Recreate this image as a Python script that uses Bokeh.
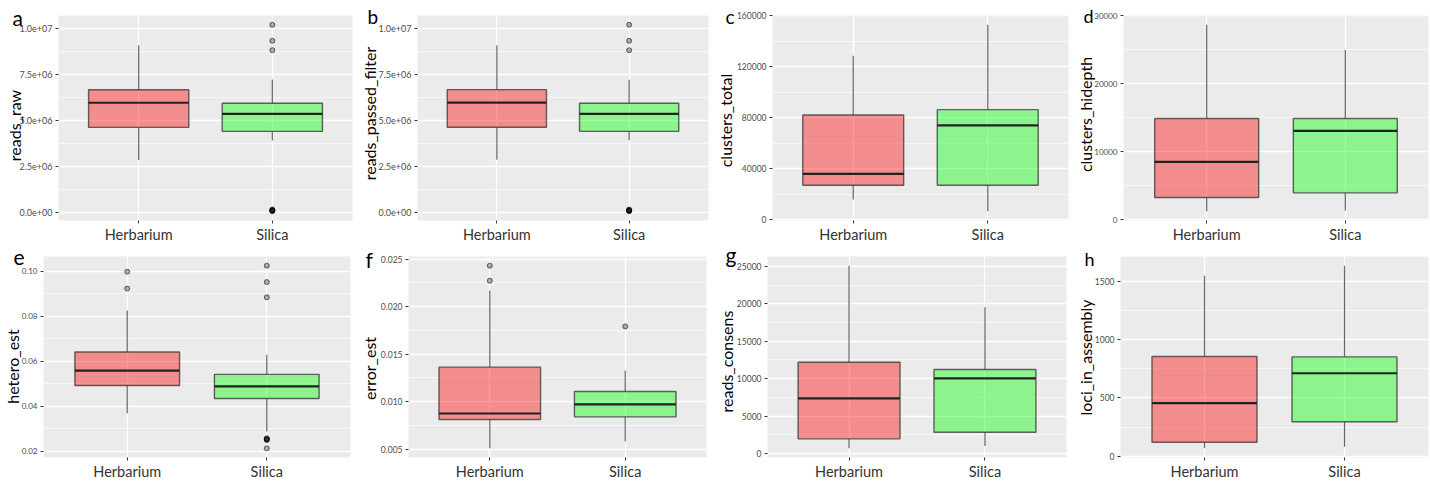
import numpy as np
from bokeh.plotting import figure
from bokeh.models import Range1d, FixedTicker, Label, ColumnDataSource
from bokeh.layouts import column, row
from bokeh.embed import file_html
from bokeh.resources import INLINE

# ---------------- data ----------------
categories = ["Herbarium", "Silica"]

reads_raw = {"lower": [2.85e6, 3.91e6], "q1": [4.62e6, 4.40e6], "median": [5.96e6, 5.35e6],
             "q3": [6.67e6, 5.93e6], "upper": [9.09e6, 7.22e6]}
reads_raw_out_cat = ["Silica"] * 8
reads_raw_out_val = [1.02e7, 9.33e6, 8.82e6, 1.5e5, 1.2e5, 1.0e5, 8.0e4, 6.0e4]

reads_passed_filter = {"lower": [2.84e6, 3.90e6], "q1": [4.61e6, 4.39e6], "median": [5.95e6, 5.34e6],
                       "q3": [6.66e6, 5.92e6], "upper": [9.07e6, 7.20e6]}
reads_passed_filter_out_cat = ["Silica"] * 8
reads_passed_filter_out_val = [1.018e7, 9.31e6, 8.80e6, 1.4e5, 1.1e5, 9.0e4, 7.0e4, 5.0e4]

clusters_total = {"lower": [15700, 6500], "q1": [26900, 26900], "median": [35800, 74000],
                  "q3": [82100, 86300], "upper": [128600, 153000]}
clusters_total_out_cat = []
clusters_total_out_val = []

clusters_hidepth = {"lower": [1230, 1330], "q1": [3250, 3930], "median": [8510, 13080],
                    "q3": [14900, 14900], "upper": [28700, 25000]}
clusters_hidepth_out_cat = []
clusters_hidepth_out_val = []

hetero_est = {"lower": [0.0369, 0.0288], "q1": [0.0493, 0.0435], "median": [0.0559, 0.0489],
              "q3": [0.0642, 0.0542], "upper": [0.0826, 0.0629]}
hetero_est_out_cat = ["Herbarium", "Herbarium", "Silica", "Silica", "Silica", "Silica", "Silica", "Silica", "Silica", "Silica"]
hetero_est_out_val = [0.0999, 0.0924, 0.1026, 0.0953, 0.0885, 0.0258, 0.0255, 0.0252, 0.0250, 0.0213]

error_est = {"lower": [0.00507, 0.00583], "q1": [0.00811, 0.00839], "median": [0.00874, 0.00971],
             "q3": [0.01362, 0.01106], "upper": [0.02168, 0.01327]}
error_est_out_cat = ["Herbarium", "Herbarium", "Silica"]
error_est_out_val = [0.02431, 0.02272, 0.01791]

reads_consens = {"lower": [700, 1010], "q1": [1970, 2850], "median": [7370, 10040],
                 "q3": [12190, 11230], "upper": [25090, 19520]}
reads_consens_out_cat = []
reads_consens_out_val = []

loci_in_assembly = {"lower": [68, 82], "q1": [121, 296], "median": [456, 712],
                    "q3": [856, 853], "upper": [1548, 1635]}
loci_in_assembly_out_cat = []
loci_in_assembly_out_val = []

ticks_reads = [0, 2.5e6, 5.0e6, 7.5e6, 1.0e7]
ticks_reads_labels = ["0.0e+00", "2.5e+06", "5.0e+06", "7.5e+06", "1.0e+07"]
ticks_clusters_total = [0, 40000, 80000, 120000, 160000]
ticks_clusters_total_labels = ["0", "40000", "80000", "120000", "160000"]
ticks_clusters_hidepth = [0, 10000, 20000, 30000]
ticks_clusters_hidepth_labels = ["0", "10000", "20000", "30000"]
ticks_hetero = [0.02, 0.04, 0.06, 0.08, 0.10]
ticks_hetero_labels = ["0.02", "0.04", "0.06", "0.08", "0.10"]
ticks_error = [0.005, 0.010, 0.015, 0.020, 0.025]
ticks_error_labels = ["0.005", "0.010", "0.015", "0.020", "0.025"]
ticks_consens = [0, 5000, 10000, 15000, 20000, 25000]
ticks_consens_labels = ["0", "5000", "10000", "15000", "20000", "25000"]
ticks_loci = [0, 500, 1000, 1500]
ticks_loci_labels = ["0", "500", "1000", "1500"]

# ---------------- styling ----------------
FONT = "Lato"
BOX_COLORS = ["red", "#00FF00"]
PAGE_W, PAGE_H = 1430, 482
BASELINE_SHIFT_LETTER = 7     # Bokeh places "alphabetic" text a little below the anchor
BASELINE_SHIFT_YLAB = 9

overlay_labels = []   # (text, page_x, page_y, size, angle, align)


def make_panel(letter, ylabel, st, out_cat, out_val, ticks, tick_labels, geom):
    (w, h, mbl, mbr, mbt, mbb, tick_size, letter_pos, letter_size, ylab_pos) = geom
    vals = st["lower"] + st["upper"] + list(out_val)
    lo, hi = min(vals), max(vals)
    pad = 0.05 * (hi - lo)
    p = figure(width=w, height=h, x_range=Range1d(0.4, 2.6), y_range=Range1d(lo - pad, hi + pad),
               output_backend="svg", toolbar_location=None,
               min_border_left=mbl, min_border_right=mbr, min_border_top=mbt, min_border_bottom=mbb,
               background_fill_color="#EBEBEB", border_fill_color="white", outline_line_color=None)
    xs = [categories.index(c) + 1 for c in categories]
    src = ColumnDataSource(dict(x=xs, lower=st["lower"], q1=st["q1"], median=st["median"],
                                q3=st["q3"], upper=st["upper"], color=BOX_COLORS,
                                xl=[x - 0.375 for x in xs], xr=[x + 0.375 for x in xs]))
    p.segment(x0="x", y0="q3", x1="x", y1="upper", source=src, line_color="#333333", line_alpha=0.75, line_width=1.2)
    p.segment(x0="x", y0="q1", x1="x", y1="lower", source=src, line_color="#333333", line_alpha=0.75, line_width=1.2)
    p.vbar(x="x", width=0.75, bottom="q1", top="q3", source=src, fill_color="color", fill_alpha=0.4,
           line_color="#333333", line_alpha=0.75, line_width=1.4)
    p.segment(x0="xl", y0="median", x1="xr", y1="median", source=src, line_color="#222222", line_width=2.2)
    if out_val:
        ox = [categories.index(c) + 1 for c in out_cat]
        p.scatter(x=ox, y=out_val, marker="circle", size=5, fill_color="black", fill_alpha=0.3,
                  line_color="black", line_alpha=0.55, line_width=1)

    step = ticks[1] - ticks[0]
    minor = [ticks[0] - step / 2] + [t + step / 2 for t in ticks]

    xt = FixedTicker(ticks=xs, minor_ticks=[])
    yt = FixedTicker(ticks=ticks, minor_ticks=minor)
    p.xaxis.ticker = xt
    p.yaxis.ticker = yt
    p.xgrid.ticker = xt
    p.ygrid.ticker = yt
    p.xaxis.major_label_overrides = {x: c for x, c in zip(xs, categories)}
    p.yaxis.major_label_overrides = {t: l for t, l in zip(ticks, tick_labels)}
    for ax in (p.xaxis, p.yaxis):
        ax.axis_line_color = None
        ax.major_tick_line_color = "#333333"
        ax.major_tick_out = 3
        ax.major_tick_in = 0
        ax.minor_tick_line_color = None
        ax.major_label_text_font = FONT
        ax.major_label_standoff = 2
    p.xaxis.major_label_text_font_size = "14.5px"
    p.xaxis.major_label_text_color = "#333333"
    p.yaxis.major_label_text_font_size = tick_size
    p.yaxis.major_label_text_color = "#4D4D4D"

    p.xgrid.grid_line_color = "white"
    p.xgrid.grid_line_width = 1.3
    p.ygrid.grid_line_color = "white"
    p.ygrid.grid_line_width = 1.3
    p.ygrid.minor_grid_line_color = "white"
    p.ygrid.minor_grid_line_width = 0.6

    overlay_labels.append((letter, letter_pos[0], letter_pos[1] - BASELINE_SHIFT_LETTER,
                           letter_size, 0.0, "left"))
    overlay_labels.append((ylabel, ylab_pos[0] - BASELINE_SHIFT_YLAB, ylab_pos[1], "16px",
                           np.pi / 2, "center"))
    return p


# geometry: width, height, borders (l, r, t, b), tick font, letter pos, letter size, y-label pos (page px)
pa = make_panel("a", "reads_raw", reads_raw, reads_raw_out_cat, reads_raw_out_val,
                ticks_reads, ticks_reads_labels,
                (362, 246, 58, 10, 15, 26, "9px", (12, 24), "21px", (23, 125)))
pb = make_panel("b", "reads_passed_filter", reads_passed_filter, reads_passed_filter_out_cat,
                reads_passed_filter_out_val, ticks_reads, ticks_reads_labels,
                (354, 246, 55, 8, 15, 26, "9px", (367, 23), "19px", (378, 113)))
pc = make_panel("c", "clusters_total", clusters_total, clusters_total_out_cat, clusters_total_out_val,
                ticks_clusters_total, ticks_clusters_total_labels,
                (356, 246, 56, 4, 15, 26, "8.5px", (725, 23), "19px", (734, 120)))
pd = make_panel("d", "clusters_hidepth", clusters_hidepth, clusters_hidepth_out_cat, clusters_hidepth_out_val,
                ticks_clusters_hidepth, ticks_clusters_hidepth_labels,
                (358, 246, 51, 2, 15, 26, "8px", (1083, 22), "18px", (1094, 114)))
pe = make_panel("e", "hetero_est", hetero_est, hetero_est_out_cat, hetero_est_out_val,
                ticks_hetero, ticks_hetero_labels,
                (358, 236, 43, 8, 10, 20, "8px", (13, 264), "21px", (21, 366)))
pf = make_panel("f", "error_est", error_est, error_est_out_cat, error_est_out_val,
                ticks_error, ticks_error_labels,
                (356, 236, 50, 8, 10, 20, "8.5px", (365, 266), "21px", (378, 368)))
pg = make_panel("g", "reads_consens", reads_consens, reads_consens_out_cat, reads_consens_out_val,
                ticks_consens, ticks_consens_labels,
                (356, 236, 53, 4, 10, 20, "8.5px", (725, 261), "21px", (735, 361)))
ph = make_panel("h", "loci_in_assembly", loci_in_assembly, loci_in_assembly_out_cat, loci_in_assembly_out_val,
                ticks_loci, ticks_loci_labels,
                (360, 236, 50, 2, 10, 20, "8.5px", (1084, 265), "18px", (1094, 357)))

grid = column(row(pa, pb, pc, pd), row(pe, pf, pg, ph))

# transparent full-page overlay carrying the panel letters and the y-axis titles
overlay = figure(width=PAGE_W, height=PAGE_H, x_range=Range1d(0, PAGE_W), y_range=Range1d(0, PAGE_H),
                 x_axis_location=None, y_axis_location=None, min_border=0, toolbar_location=None,
                 output_backend="svg", background_fill_color=None, border_fill_color=None,
                 outline_line_color=None)
overlay.grid.visible = False
overlay.styles = {"position": "absolute", "left": "0px", "top": "0px", "z-index": "10",
                  "pointer-events": "none"}
for text, px, py, size, ang, align in overlay_labels:
    overlay.add_layout(Label(x=px, y=PAGE_H - py, x_units="screen", y_units="screen", text=text,
                             text_font=FONT, text_font_size=size, text_color="black",
                             text_align=align, text_baseline="alphabetic", angle=ang))

open("out.html", "w").write(file_html([grid, overlay], INLINE))
